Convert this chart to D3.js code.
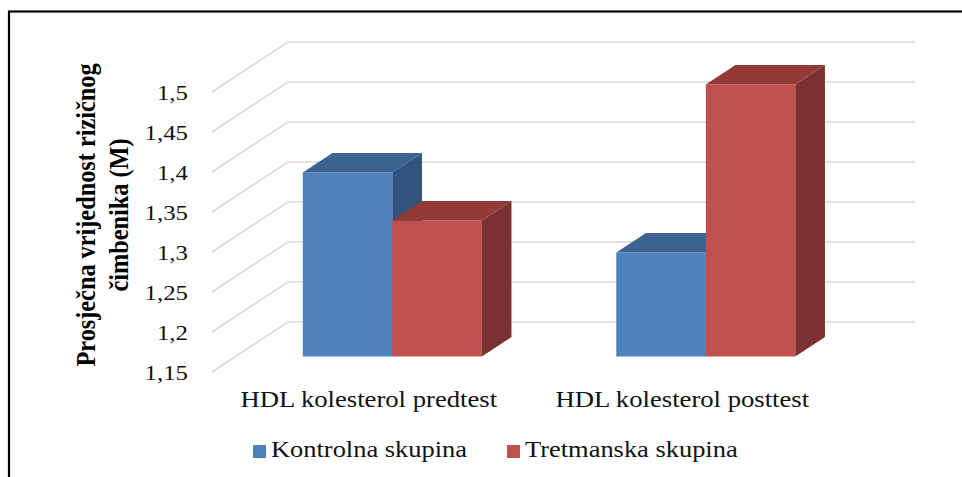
<!DOCTYPE html>
<html>
<head>
<meta charset="utf-8">
<script src="https://cdn.jsdelivr.net/npm/d3@7"></script>
<style>
  html, body { margin: 0; padding: 0; background: #fff; }
  svg { display: block; }
</style>
</head>
<body>
<script>
// ---- data ----
const categories = ["HDL kolesterol predtest", "HDL kolesterol posttest"];
const seriesNames = ["Kontrolna skupina", "Tretmanska skupina"];
const kontrolna = [1.38, 1.28];
const tretmanska = [1.32, 1.49];
const tickValues = [1.15, 1.2, 1.25, 1.3, 1.35, 1.4, 1.45, 1.5];
const tickLabels = ["1,15", "1,2", "1,25", "1,3", "1,35", "1,4", "1,45", "1,5"];
const yTitle = ["Prosječna vrijednost rizičnog", "čimbenika (M)"];

const FONT = "Liberation Serif";
const SX = 1.13; // horizontal stretch of the original picture's text
const W = 962, H = 477;
const svg = d3.select("body").append("svg").attr("width", W).attr("height", H);

// frame
svg.append("rect").attr("x", 9).attr("y", 11.5).attr("width", 1000).attr("height", 1000)
  .attr("fill", "none").attr("stroke", "#000").attr("stroke-width", 2.2);

// 3D geometry
const frontLeft = 212, frontRight = 839;
const depthDX = 76, depthDY = -50;
const barFront = 0.31, barBack = 0.70;

const y = d3.scaleLinear().domain([1.15, 1.5]).range([372, 92]);
const x0 = d3.scaleBand().domain(categories).range([frontLeft, frontRight]).padding(0);
const groupFrac = 0.571;
const x1 = d3.scaleBand().domain(seriesNames)
  .range([x0.bandwidth() * (1 - groupFrac) / 2, x0.bandwidth() * (1 + groupFrac) / 2]).padding(0);

const grid = svg.append("g");
tickValues.forEach(v => {
  const yf = y(v);
  grid.append("path")
    .attr("d", `M${frontLeft},${yf} L${frontLeft + depthDX},${yf + depthDY} L${frontRight + depthDX},${yf + depthDY}`)
    .attr("fill", "none").attr("stroke", "#d9d9d9").attr("stroke-width", 1.6);
});

// tick labels
svg.append("g").selectAll("text").data(tickValues).join("text")
  .attr("transform", d => `translate(188,${y(d)}) scale(${SX},1)`)
  .attr("dy", "0.35em")
  .attr("text-anchor", "end").attr("font-size", 22).attr("fill", "#111")
  .attr("font-family", FONT)
  .text((d, i) => tickLabels[i]);

// bars
const colors = {
  "Kontrolna skupina": { front: "#4f81bd", top: "#3c6493", side: "#30547f" },
  "Tretmanska skupina": { front: "#c0504d", top: "#933a37", side: "#7c3130" }
};
const seriesData = [kontrolna, tretmanska];
const bars = svg.append("g");
categories.forEach((cat, ci) => {
  seriesNames.forEach((s, si) => {
    const v = seriesData[si][ci];
    const xl = x0(cat) + x1(s), xr = xl + x1.bandwidth();
    const fdx = depthDX * barFront, fdy = depthDY * barFront;
    const bdx = depthDX * barBack, bdy = depthDY * barBack;
    const yt = y(v), yb = y(1.15);
    const c = colors[s];
    const g = bars.append("g");
    g.append("path").attr("d",
      `M${xl + fdx},${yb + fdy} L${xl + fdx},${yt + fdy} L${xr + fdx},${yt + fdy} L${xr + fdx},${yb + fdy} Z`)
      .attr("fill", c.front);
    g.append("path").attr("d",
      `M${xl + fdx},${yt + fdy} L${xl + bdx},${yt + bdy} L${xr + bdx},${yt + bdy} L${xr + fdx},${yt + fdy} Z`)
      .attr("fill", c.top);
    g.append("path").attr("d",
      `M${xr + fdx},${yt + fdy} L${xr + bdx},${yt + bdy} L${xr + bdx},${yb + bdy} L${xr + fdx},${yb + fdy} Z`)
      .attr("fill", c.side);
  });
});

// category labels
svg.append("g").selectAll("text").data(categories).join("text")
  .attr("transform", d => `translate(${x0(d) + x0.bandwidth() / 2},406.5) scale(1.16,1)`)
  .attr("text-anchor", "middle").attr("font-size", 23).attr("fill", "#111")
  .attr("font-family", FONT)
  .text(d => d);

// y title
const t = svg.append("text").attr("transform", `translate(95,215) scale(1.1,1) rotate(-90)`)
  .attr("text-anchor", "middle").attr("font-size", 24.3).attr("font-weight", "bold")
  .attr("fill", "#000").attr("font-family", FONT);
t.append("tspan").attr("x", 0).attr("y", 0).text(yTitle[0]);
t.append("tspan").attr("x", 0).attr("y", 30).text(yTitle[1]);

// legend
const legendX = [253, 507];
const lg = svg.append("g");
seriesNames.forEach((s, i) => {
  lg.append("rect").attr("x", legendX[i]).attr("y", 445).attr("width", 13).attr("height", 13)
    .attr("fill", colors[s].front);
  lg.append("text").attr("transform", `translate(${legendX[i] + 18},457) scale(1.15,1)`)
    .attr("font-size", 23)
    .attr("fill", "#111").attr("font-family", FONT).text(s);
});
</script>
</body>
</html>
